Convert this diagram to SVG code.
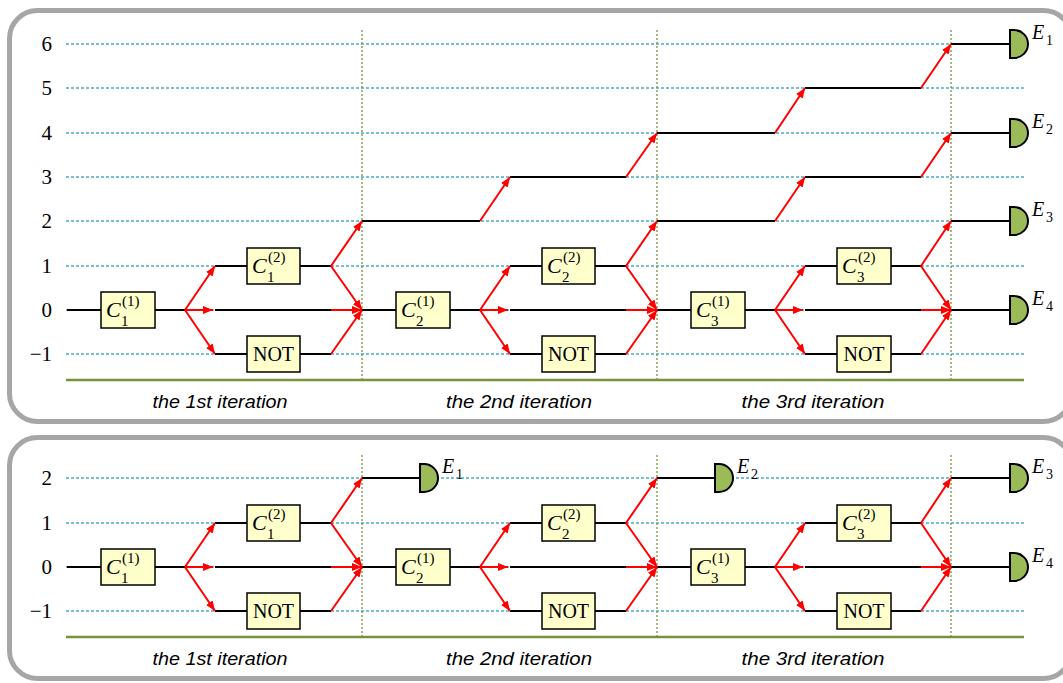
<svg xmlns="http://www.w3.org/2000/svg" width="1063" height="683" viewBox="0 0 1063 683">
<style>
.panel{fill:none;stroke:#a6a6a6;stroke-width:5}
.dot{stroke:#4bacc6;stroke-width:1.3;stroke-dasharray:3 2;fill:none}
.vdot{stroke:#77933c;stroke-width:1.3;stroke-dasharray:2 2;fill:none}
.base{stroke:#77933c;stroke-width:2.5}
.w{stroke:#000;stroke-width:2;fill:none}
.r{stroke:#ff0000;stroke-width:2;fill:none;marker-end:url(#ah)}
.box{fill:#ffffcc;stroke:#000;stroke-width:1.5}
.det{fill:#9bbb59;stroke:#000;stroke-width:2}
.ax{font-family:"Liberation Serif",serif;font-size:21px;text-anchor:end;fill:#000}
.ci{font-family:"Liberation Serif",serif;font-style:italic;font-size:22px;fill:#000}
.sm{font-family:"Liberation Serif",serif;font-size:15px;fill:#000}
.el{font-family:"Liberation Serif",serif;font-style:italic;font-size:20px;fill:#000}
.es{font-family:"Liberation Serif",serif;font-size:14px;fill:#000}
.not{font-family:"Liberation Serif",serif;font-size:20px;text-anchor:middle;fill:#000}
.it{font-family:"Liberation Sans",sans-serif;font-style:italic;font-size:18px;text-anchor:middle;fill:#000}
</style>
<defs>
<marker id="ah" markerWidth="10" markerHeight="8" refX="10" refY="4" orient="auto" markerUnits="userSpaceOnUse"><path d="M0,0 L10,4 L0,8 z" fill="#ff0000"/></marker>
<path id="dshape" d="M0,-14 h4 a14,14 0 0 1 0,28 h-4 z"/>
</defs>
<rect class="panel" x="9.5" y="10.5" width="1062" height="411" rx="28"/>
<rect class="panel" x="9.5" y="437.5" width="1062" height="241" rx="28"/>

<g id="grid-top">
<path class="dot" d="M66,44H1024M66,88H1024M66,133H1024M66,177H1024M66,221H1024M66,266H1024M66,310H1024M66,354H1024"/>
<path class="vdot" d="M362,30V380M657,30V380M951,30V380"/>
<path class="base" d="M66,380H1024"/>
<text class="ax" x="52" y="51">6</text>
<text class="ax" x="52" y="95">5</text>
<text class="ax" x="52" y="140">4</text>
<text class="ax" x="52" y="184">3</text>
<text class="ax" x="52" y="228">2</text>
<text class="ax" x="52" y="273">1</text>
<text class="ax" x="52" y="317">0</text>
<text class="ax" x="52" y="361">−1</text>
<text class="it" x="220" y="408" textLength="135" lengthAdjust="spacingAndGlyphs">the 1st iteration</text>
<text class="it" x="519" y="408" textLength="146" lengthAdjust="spacingAndGlyphs">the 2nd iteration</text>
<text class="it" x="813" y="408" textLength="143" lengthAdjust="spacingAndGlyphs">the 3rd iteration</text>
</g>
<g id="grid-bottom">
<path class="dot" d="M66,478H1024M66,523H1024M66,567H1024M66,611H1024"/>
<path class="vdot" d="M362,455V637M657,455V637M951,455V637"/>
<path class="base" d="M66,637H1024"/>
<text class="ax" x="52" y="485">2</text>
<text class="ax" x="52" y="530">1</text>
<text class="ax" x="52" y="574">0</text>
<text class="ax" x="52" y="618">−1</text>
<text class="it" x="220" y="665" textLength="135" lengthAdjust="spacingAndGlyphs">the 1st iteration</text>
<text class="it" x="519" y="665" textLength="146" lengthAdjust="spacingAndGlyphs">the 2nd iteration</text>
<text class="it" x="813" y="665" textLength="143" lengthAdjust="spacingAndGlyphs">the 3rd iteration</text>
</g>

<g id="connectors-top">
<path class="w" d="M67,310H101M155,310H185M215,266H247M300,266H331M215,310H331M215,354H247M300,354H331"/>
<path class="w" d="M362,310H396M450,310H480M510,266H542M595,266H626M510,310H626M510,354H542M595,354H626"/>
<path class="w" d="M657,310H691M745,310H775M805,266H837M891,266H921M805,310H921M805,354H837M891,354H921"/>
<path class="w" d="M362,221H480M510,177H626M657,221H775M805,177H921M657,133H775M805,88H921M951,44H1010M951,133H1010M951,221H1010M951,310H1010"/>
<path class="r" d="M185,310L215,266"/><path class="r" d="M185,310L213,310"/><path class="r" d="M185,310L215,354"/>
<path class="r" d="M331,266L362,310"/><path class="r" d="M331,310L362,310"/><path class="r" d="M331,354L362,310"/><path class="r" d="M331,266L362,221"/>
<path class="r" d="M480,310L510,266"/><path class="r" d="M480,310L508,310"/><path class="r" d="M480,310L510,354"/>
<path class="r" d="M626,266L657,310"/><path class="r" d="M626,310L657,310"/><path class="r" d="M626,354L657,310"/><path class="r" d="M626,266L657,221"/>
<path class="r" d="M775,310L805,266"/><path class="r" d="M775,310L803,310"/><path class="r" d="M775,310L805,354"/>
<path class="r" d="M921,266L951,310"/><path class="r" d="M921,310L951,310"/><path class="r" d="M921,354L951,310"/><path class="r" d="M921,266L951,221"/>
<path class="r" d="M480,221L510,177"/><path class="r" d="M626,177L657,133"/><path class="r" d="M775,221L805,177"/><path class="r" d="M775,133L805,88"/><path class="r" d="M921,177L951,133"/><path class="r" d="M921,88L951,44"/>
</g>

<g id="connectors-bottom" transform="translate(0,257)">
<path class="w" d="M67,310H101M155,310H185M215,266H247M300,266H331M215,310H331M215,354H247M300,354H331"/>
<path class="w" d="M362,310H396M450,310H480M510,266H542M595,266H626M510,310H626M510,354H542M595,354H626"/>
<path class="w" d="M657,310H691M745,310H775M805,266H837M891,266H921M805,310H921M805,354H837M891,354H921"/>
<path class="w" d="M362,221H420M657,221H715M951,221H1010M951,310H1010"/>
<path class="r" d="M185,310L215,266"/><path class="r" d="M185,310L213,310"/><path class="r" d="M185,310L215,354"/>
<path class="r" d="M331,266L362,310"/><path class="r" d="M331,310L362,310"/><path class="r" d="M331,354L362,310"/><path class="r" d="M331,266L362,221"/>
<path class="r" d="M480,310L510,266"/><path class="r" d="M480,310L508,310"/><path class="r" d="M480,310L510,354"/>
<path class="r" d="M626,266L657,310"/><path class="r" d="M626,310L657,310"/><path class="r" d="M626,354L657,310"/><path class="r" d="M626,266L657,221"/>
<path class="r" d="M775,310L805,266"/><path class="r" d="M775,310L803,310"/><path class="r" d="M775,310L805,354"/>
<path class="r" d="M921,266L951,310"/><path class="r" d="M921,310L951,310"/><path class="r" d="M921,354L951,310"/><path class="r" d="M921,266L951,221"/>
</g>

<g id="nodes-top">
<g id="t-c1-1"><rect class="box" x="101" y="292" width="54" height="36"/><text class="ci" x="106" y="317">C</text><text class="sm" x="121" y="326">1</text><text class="sm" x="122" y="306">(1)</text></g>
<g id="t-c1-2"><rect class="box" x="247" y="248" width="53" height="36"/><text class="ci" x="252" y="273">C</text><text class="sm" x="267" y="282">1</text><text class="sm" x="268" y="262">(2)</text></g>
<g id="t-not1"><rect class="box" x="247" y="336" width="53" height="36"/><text class="not" x="273.5" y="361">NOT</text></g>
<g id="t-c2-1"><rect class="box" x="396" y="292" width="54" height="36"/><text class="ci" x="401" y="317">C</text><text class="sm" x="416" y="326">2</text><text class="sm" x="417" y="306">(1)</text></g>
<g id="t-c2-2"><rect class="box" x="542" y="248" width="53" height="36"/><text class="ci" x="547" y="273">C</text><text class="sm" x="562" y="282">2</text><text class="sm" x="563" y="262">(2)</text></g>
<g id="t-not2"><rect class="box" x="542" y="336" width="53" height="36"/><text class="not" x="568.5" y="361">NOT</text></g>
<g id="t-c3-1"><rect class="box" x="691" y="292" width="54" height="36"/><text class="ci" x="696" y="317">C</text><text class="sm" x="711" y="326">3</text><text class="sm" x="712" y="306">(1)</text></g>
<g id="t-c3-2"><rect class="box" x="837" y="248" width="54" height="36"/><text class="ci" x="842" y="273">C</text><text class="sm" x="857" y="282">3</text><text class="sm" x="858" y="262">(2)</text></g>
<g id="t-not3"><rect class="box" x="837" y="336" width="54" height="36"/><text class="not" x="864" y="361">NOT</text></g>
<g id="t-e1"><use href="#dshape" class="det" x="1010" y="44"/><text class="el" x="1032" y="39">E</text><text class="es" x="1046" y="45">1</text></g>
<g id="t-e2"><use href="#dshape" class="det" x="1010" y="133"/><text class="el" x="1032" y="128">E</text><text class="es" x="1046" y="134">2</text></g>
<g id="t-e3"><use href="#dshape" class="det" x="1010" y="221"/><text class="el" x="1032" y="216">E</text><text class="es" x="1046" y="222">3</text></g>
<g id="t-e4"><use href="#dshape" class="det" x="1010" y="310"/><text class="el" x="1032" y="305">E</text><text class="es" x="1046" y="311">4</text></g>
</g>

<g id="nodes-bottom" transform="translate(0,257)">
<g id="b-c1-1"><rect class="box" x="101" y="292" width="54" height="36"/><text class="ci" x="106" y="317">C</text><text class="sm" x="121" y="326">1</text><text class="sm" x="122" y="306">(1)</text></g>
<g id="b-c1-2"><rect class="box" x="247" y="248" width="53" height="36"/><text class="ci" x="252" y="273">C</text><text class="sm" x="267" y="282">1</text><text class="sm" x="268" y="262">(2)</text></g>
<g id="b-not1"><rect class="box" x="247" y="336" width="53" height="36"/><text class="not" x="273.5" y="361">NOT</text></g>
<g id="b-c2-1"><rect class="box" x="396" y="292" width="54" height="36"/><text class="ci" x="401" y="317">C</text><text class="sm" x="416" y="326">2</text><text class="sm" x="417" y="306">(1)</text></g>
<g id="b-c2-2"><rect class="box" x="542" y="248" width="53" height="36"/><text class="ci" x="547" y="273">C</text><text class="sm" x="562" y="282">2</text><text class="sm" x="563" y="262">(2)</text></g>
<g id="b-not2"><rect class="box" x="542" y="336" width="53" height="36"/><text class="not" x="568.5" y="361">NOT</text></g>
<g id="b-c3-1"><rect class="box" x="691" y="292" width="54" height="36"/><text class="ci" x="696" y="317">C</text><text class="sm" x="711" y="326">3</text><text class="sm" x="712" y="306">(1)</text></g>
<g id="b-c3-2"><rect class="box" x="837" y="248" width="54" height="36"/><text class="ci" x="842" y="273">C</text><text class="sm" x="857" y="282">3</text><text class="sm" x="858" y="262">(2)</text></g>
<g id="b-not3"><rect class="box" x="837" y="336" width="54" height="36"/><text class="not" x="864" y="361">NOT</text></g>
<g id="b-e1"><use href="#dshape" class="det" x="420" y="221"/><text class="el" x="442" y="216">E</text><text class="es" x="456" y="222">1</text></g>
<g id="b-e2"><use href="#dshape" class="det" x="715" y="221"/><text class="el" x="737" y="216">E</text><text class="es" x="751" y="222">2</text></g>
<g id="b-e3"><use href="#dshape" class="det" x="1010" y="221"/><text class="el" x="1032" y="216">E</text><text class="es" x="1046" y="222">3</text></g>
<g id="b-e4"><use href="#dshape" class="det" x="1010" y="310"/><text class="el" x="1032" y="305">E</text><text class="es" x="1046" y="311">4</text></g>
</g>
</svg>
